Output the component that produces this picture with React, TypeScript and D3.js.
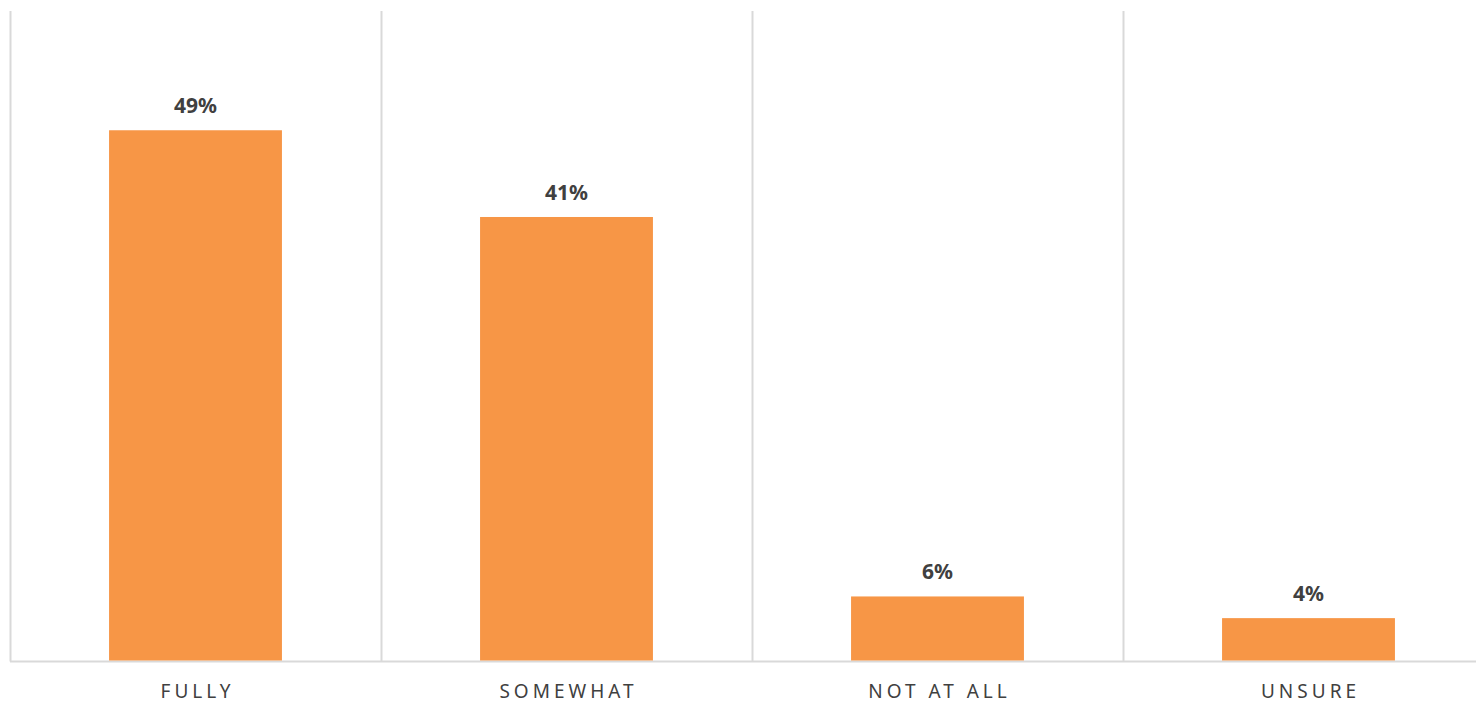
import React from "react";
import * as d3 from "d3";

const categories = ["FULLY", "SOMEWHAT", "NOT AT ALL", "UNSURE"];
const values = [49, 41, 6, 4];
const valueLabels = ["49%", "41%", "6%", "4%"];

const W = 1476;
const H = 704;
const left = 10;
const right = 1494;
const top = 11;
const bottom = 661.5;

export default function App() {
  const x = d3.scaleBand<string>().domain(categories).range([left, right]).paddingInner(0).paddingOuter(0);
  const y = d3.scaleLinear().domain([0, 60]).range([bottom, top]);
  const bw = x.bandwidth() * 0.466;
  const font = "'Source Sans Pro', 'Noto Sans', 'Open Sans', sans-serif";
  return (
    <svg width={W} height={H} style={{ position: "absolute", left: 0, top: 0 }}>
      <rect width={W} height={H} fill="#ffffff" />
      {categories.map((c) => (
        <line key={"g" + c} x1={x(c)! + 0.5} x2={x(c)! + 0.5} y1={top} y2={bottom} stroke="#d9d9d9" strokeWidth={2} />
      ))}
      <line x1={left} x2={right} y1={bottom} y2={bottom} stroke="#d9d9d9" strokeWidth={2} />
      {categories.map((c, i) => {
        const cx = x(c)! + x.bandwidth() / 2;
        return (
          <g key={c}>
            <rect x={cx - bw / 2} y={y(values[i])} width={bw} height={bottom - 1 - y(values[i])} fill="#F79646" />
            <text x={cx} y={y(values[i]) - 17} textAnchor="middle" fontFamily={font} fontWeight={700} fontSize={21} fill="#404040">
              {valueLabels[i]}
            </text>
            <text x={cx + 2} y={698} textAnchor="middle" fontFamily={font} fontSize={19} letterSpacing={4} fill="#404040">
              {c}
            </text>
          </g>
        );
      })}
    </svg>
  );
}
